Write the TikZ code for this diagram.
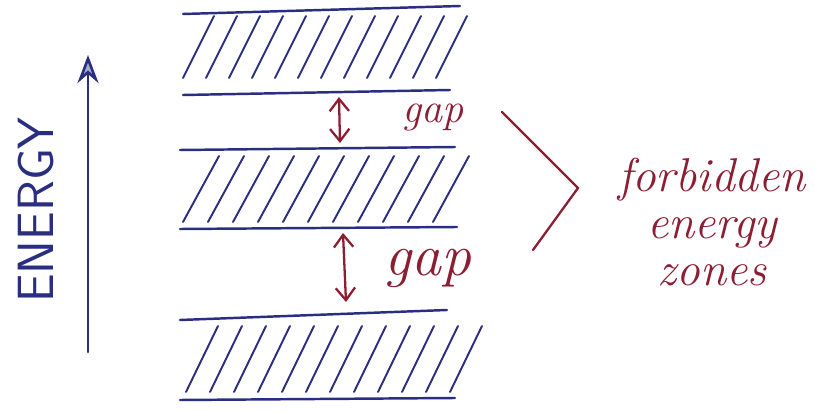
\documentclass[tikz,border=0pt]{standalone}
\usepackage{amsmath,amssymb}
\usepackage{tikz}
\usetikzlibrary{arrows.meta}
\definecolor{bandblue}{RGB}{42,46,128}
\definecolor{inkred}{RGB}{140,30,52}

\begin{document}
\begin{tikzpicture}[x=0.02cm,y=-0.02cm,line width=1.1pt,line cap=round,
  edge/.style={bandblue,line width=1.4pt},
  hatch/.style={bandblue,line width=1.1pt},
  gaparrow/.style={inkred,line width=1.3pt,{Straight Barb[length=7pt,width=11pt]}-{Straight Barb[length=7pt,width=11pt]}},
  redtext/.style={inkred,font=\fontsize{30}{32}\selectfont\itshape}]
\useasboundingbox (0,0) rectangle (840,412);
% energy axis
\coordinate (e0) at (88,352);
\coordinate (e1) at (88,55);
\draw[bandblue,line width=1.5pt,-{Stealth[length=16pt,width=12pt,open,fill=bandblue!40]}] (e0) -- (e1);
\node[bandblue,rotate=90,font=\fontsize{29}{30}\selectfont\sffamily] (energy) at (36,210) {ENERGY};
% upper band
\coordinate (u1) at (183,14);  \coordinate (u2) at (460,6);
\coordinate (u3) at (183,95);  \coordinate (u4) at (450,90);
\draw[edge] (u1) -- (u2);
\draw[edge] (u3) -- (u4);
\foreach \i in {0,...,11}
  \draw[hatch] (183+\i*23,78) -- ++(31,-62);
% middle band
\coordinate (m1) at (180,150); \coordinate (m2) at (455,147);
\coordinate (m3) at (180,229); \coordinate (m4) at (457,227);
\draw[edge] (m1) -- (m2);
\draw[edge] (m3) -- (m4);
\foreach \i in {0,...,10}
  \draw[hatch] (183+\i*25,222) -- ++(36,-66);
% lower band
\coordinate (l1) at (180,320); \coordinate (l2) at (447,310);
\coordinate (l3) at (180,400); \coordinate (l4) at (455,398);
\draw[edge] (l1) -- (l2);
\draw[edge] (l3) -- (l4);
\foreach \i in {0,...,11}
  \draw[hatch] (186+\i*24,392) -- ++(32,-66);
% gaps
\coordinate (g1a) at (339,97);  \coordinate (g1b) at (340,143);
\coordinate (g2a) at (343,233); \coordinate (g2b) at (346,302);
\draw[gaparrow] (g1a) -- (g1b);
\draw[gaparrow] (g2a) -- (g2b);
\node[redtext,font=\fontsize{24}{26}\selectfont\itshape] (gap1) at (433,118) {gap};
\node[redtext,font=\fontsize{34}{36}\selectfont\itshape] (gap2) at (428,268) {gap};
% bracket
\coordinate (b1) at (502,112);
\coordinate (b2) at (578,188);
\coordinate (b3) at (533,250);
\draw[inkred,line width=1.3pt] (b1) -- (b2) -- (b3);
\node[redtext,align=center,font=\fontsize{27}{27}\selectfont\itshape] (zones) at (712,222) {forbidden\\energy\\zones};
\end{tikzpicture}
\end{document}
